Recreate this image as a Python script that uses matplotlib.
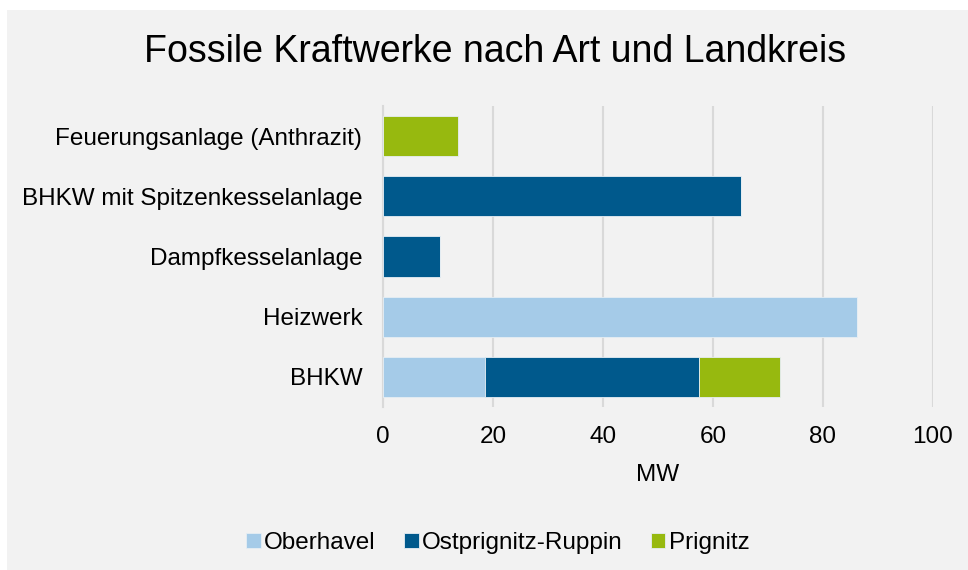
import numpy as np
import matplotlib.pyplot as plt
from matplotlib.patches import Rectangle

plt.rcParams['font.family'] = ['Liberation Sans', 'DejaVu Sans']

### Data
categories = ['BHKW', 'Heizwerk', 'Dampfkesselanlage',
              'BHKW mit Spitzenkesselanlage', 'Feuerungsanlage (Anthrazit)']
series = ['Oberhavel', 'Ostprignitz-Ruppin', 'Prignitz']
oberhavel = [18.6, 86.2, 0, 0, 0]
ostprignitz = [38.9, 0, 10.4, 65.0, 0]
prignitz = [14.7, 0, 0, 0, 13.6]
colors = ['#a5cbe8', '#00598c', '#97b90f']

### Figure
fig = plt.figure(figsize=(9.68, 5.70), dpi=100, facecolor='white')
bg = Rectangle((7 / 968, 0), 1, 1 - 10 / 570, transform=fig.transFigure,
               facecolor='#f2f2f2', edgecolor='none', zorder=-10)
fig.patches.append(bg)

ax = fig.add_axes([383 / 968, 1 - 407 / 570, 550 / 968, 301 / 570])
ax.set_facecolor('#f2f2f2')

y = np.arange(len(categories))
left = np.zeros(len(categories))
for name, vals, col in zip(series, [oberhavel, ostprignitz, prignitz], colors):
    vals = np.array(vals)
    ax.barh(y, vals, left=left, height=0.67, color=col, label=name,
            edgecolor='#e6eef4', linewidth=0.6, zorder=3)
    left += vals

ax.set_xlim(0, 100)
ax.set_ylim(-0.5, len(categories) - 0.5)
ax.set_xticks(np.arange(0, 101, 20))
ax.set_yticks(y)
ax.set_yticklabels(categories)
ax.tick_params(axis='both', length=0, labelsize=17.5, colors='black')
ax.tick_params(axis='x', pad=14)
ax.tick_params(axis='y', pad=15)
ax.grid(axis='x', color='#d9d9d9', linewidth=1.5, zorder=0)
for s in ['top', 'right', 'bottom']:
    ax.spines[s].set_visible(False)
ax.spines['left'].set_color('#d9d9d9')
ax.spines['left'].set_linewidth(1.5)
ax.set_xlabel('MW', fontsize=17.5, labelpad=11)

fig.suptitle('Fossile Kraftwerke nach Art und Landkreis', fontsize=27,
             x=495 / 968, y=1 - 52 / 570, va='center')

fig.legend(loc='center', bbox_to_anchor=(498 / 968, 1 - 543 / 570), ncol=3,
           frameon=False, fontsize=17.5, handlelength=0.6, handleheight=0.6,
           handletextpad=0.15, columnspacing=1.15)

fig.savefig('out.png', dpi=100, facecolor=fig.get_facecolor())
